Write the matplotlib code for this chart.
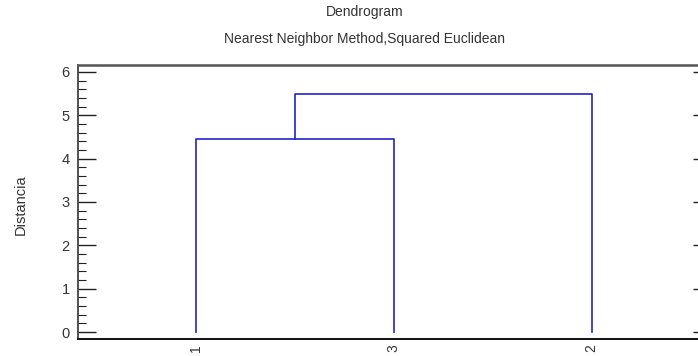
import matplotlib
matplotlib.use("Agg")
import matplotlib.pyplot as plt
from matplotlib.ticker import MultipleLocator

plt.rcParams["font.family"] = ["Liberation Sans", "DejaVu Sans"]

# leaf order along the x axis and the two merge heights
leaf_labels = ["1", "3", "2"]
merge_heights = [4.45, 5.5]

line_color = "#2323cc"
text_color = "#333333"

fig = plt.figure(figsize=(6.98, 3.56), dpi=100)
ax = fig.add_axes([78 / 698, 1 - 339 / 356, 622 / 698, (339 - 64.5) / 356])

x = list(range(1, len(leaf_labels) + 1))
h1, h2 = merge_heights
# first cluster: leaves 1 and 3
ax.plot([x[0], x[0], x[1], x[1]], [0, h1, h1, 0], color=line_color, lw=1.2)
mid = (x[0] + x[1]) / 2
# join with leaf 2
ax.plot([mid, mid, x[2], x[2]], [h1, h2, h2, 0], color=line_color, lw=1.2)

ax.set_xlim(1 - 0.595, 3 + 0.547)
ax.set_ylim(-0.16, 6.17)
ax.set_xticks(x)
ax.set_xticklabels(leaf_labels, rotation=90, color=text_color, fontsize=10)
ax.tick_params(axis="x", length=0, pad=4)

ax.yaxis.set_major_locator(MultipleLocator(1))
ax.yaxis.set_minor_locator(MultipleLocator(0.2))
ax.tick_params(axis="y", which="major", direction="in", length=13, width=1,
               color="#222222", labelcolor=text_color, labelsize=10.5, pad=6,
               right=True)
ax.tick_params(axis="y", which="minor", direction="in", length=6, width=0.8,
               color="#222222", right=False)
for t in ax.yaxis.get_major_ticks():
    t.tick2line.set_markersize(5)

ax.spines["top"].set_color("#555555")
ax.spines["top"].set_linewidth(1.8)
ax.spines["left"].set_color("#333333")
ax.spines["left"].set_linewidth(1.2)
ax.spines["bottom"].set_color("#111111")
ax.spines["bottom"].set_linewidth(1.4)
ax.spines["right"].set_color("#555555")

ax.set_ylabel("Distancia", color=text_color, fontsize=10.5)
ax.yaxis.set_label_coords(-0.08, 0.49)

fig.text(365 / 698, 1 - 12 / 356, "Dendrogram", ha="center", va="center",
         color=text_color, fontsize=10)
fig.text(365 / 698, 1 - 39 / 356, "Nearest Neighbor Method,Squared Euclidean",
         ha="center", va="center", color=text_color, fontsize=10)

fig.savefig("out.png", dpi=100)
